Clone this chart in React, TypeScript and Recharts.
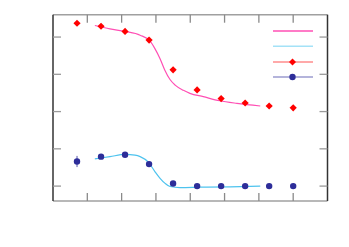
import {
    ComposedChart,
    Line,
    Scatter,
    ErrorBar,
    XAxis,
    YAxis
} from "recharts";

// x positions of the measured points
const xs = [0.7, 1.4, 2.1, 2.8, 3.5, 4.2, 4.9, 5.6, 6.3, 7.0];
const redValues = [4.37, 4.29, 4.15, 3.92, 3.12, 2.58, 2.35, 2.23, 2.15, 2.1];
const blueValues = [0.66, 0.79, 0.84, 0.59, 0.07, 0.0, 0.0, 0.0, 0.0, 0.0];
const blueErrors = [0.15, 0, 0, 0, 0, 0, 0, 0, 0, 0];

// fitted curves
const pinkFitX = [1.22, 1.66, 2.1, 2.54, 2.83, 2.97, 3.12, 3.26, 3.41, 3.56, 3.8, 3.99, 4.38, 4.86, 5.36, 6.04];
const pinkFitY = [4.31, 4.22, 4.15, 4.05, 3.89, 3.69, 3.42, 3.11, 2.86, 2.71, 2.57, 2.49, 2.4, 2.29, 2.22, 2.15];
const blueFitX = [1.22, 1.66, 2.1, 2.39, 2.54, 2.78, 2.97, 3.12, 3.26, 3.41, 3.7, 4.29, 5.16, 6.04];
const blueFitY = [0.73, 0.79, 0.85, 0.83, 0.79, 0.64, 0.39, 0.21, 0.08, -0.01, -0.04, -0.03, -0.02, 0.0];

const xTicks = [1, 2, 3, 4, 5, 6, 7];
const yTicks = [0, 1, 2, 3, 4];

const redData = xs.map((x, i) => ({ x, y: redValues[i] }));
const blueData = xs.map((x, i) => ({ x, y: blueValues[i], err: blueErrors[i] }));
const pinkFit = pinkFitX.map((x, i) => ({ x, y: pinkFitY[i] }));
const blueFit = blueFitX.map((x, i) => ({ x, y: blueFitY[i] }));

const PINK = "#ff4fb4";
const CYAN = "#4ec3ee";
const RED = "#ff0000";
const NAVY = "#2d2d99";

const Diamond = (props: any) => {
    const { cx, cy } = props;
    const r = 3.6;
    return (
        <polygon
            points={`${cx},${cy - r} ${cx + r},${cy} ${cx},${cy + r} ${cx - r},${cy}`}
            fill={RED}
        />
    );
};

const Dot = (props: any) => <circle cx={props.cx} cy={props.cy} r={3.2} fill={NAVY} />;

// no tick labels, only the tick marks
const NoLabel = () => <g />;

function LegendBox() {
    const ys = [7, 22.3, 38, 53];
    return (
        <svg
            width={42}
            height={62}
            style={{ position: "absolute", left: 265, top: 15.7 }}
        >
            <line x1={0} x2={40} y1={ys[0]} y2={ys[0]} stroke={PINK} strokeWidth={1.3} />
            <line x1={0} x2={40} y1={ys[1]} y2={ys[1]} stroke="#a4e2f7" strokeWidth={1.6} />
            <line x1={0} x2={40} y1={ys[2]} y2={ys[2]} stroke="#ff5555" strokeWidth={1.2} />
            <polygon points={`19.5,${ys[2] - 3.5} 23,${ys[2]} 19.5,${ys[2] + 3.5} 16,${ys[2]}`} fill={RED} />
            <line x1={0} x2={40} y1={ys[3]} y2={ys[3]} stroke="#6b6bb8" strokeWidth={1.2} />
            <circle cx={19.5} cy={ys[3]} r={3.2} fill={NAVY} />
        </svg>
    );
}

export default function App() {
    return (
        <div style={{ position: "relative", width: 333, height: 231 }}>
            <ComposedChart
                width={333}
                height={231}
                margin={{ top: 6.7, right: 13.5, bottom: 38, left: 45 }}
            >
                <XAxis
                    xAxisId="b"
                    type="number"
                    dataKey="x"
                    domain={[0, 8]}
                    ticks={xTicks}
                    interval={0}
                    allowDataOverflow
                    mirror
                    tick={NoLabel}
                    tickSize={8}
                    axisLine={{ stroke: "#a0a0a0", strokeWidth: 1.5 }}
                    tickLine={{ stroke: "#8a8a8a", strokeWidth: 1.3 }}
                />
                <XAxis
                    xAxisId="t"
                    orientation="top"
                    type="number"
                    dataKey="x"
                    domain={[0, 8]}
                    ticks={xTicks}
                    interval={0}
                    allowDataOverflow
                    mirror
                    tick={NoLabel}
                    tickSize={8}
                    axisLine={{ stroke: "#a0a0a0", strokeWidth: 1.5 }}
                    tickLine={{ stroke: "#8a8a8a", strokeWidth: 1.3 }}
                />
                <YAxis
                    yAxisId="l"
                    type="number"
                    domain={[-0.4, 4.6]}
                    ticks={yTicks}
                    interval={0}
                    allowDataOverflow
                    mirror
                    tick={NoLabel}
                    tickSize={8}
                    axisLine={{ stroke: "#333", strokeWidth: 1.5 }}
                    tickLine={{ stroke: "#9a9a9a", strokeWidth: 1.3 }}
                />
                <YAxis
                    yAxisId="r"
                    orientation="right"
                    type="number"
                    domain={[-0.4, 4.6]}
                    ticks={yTicks}
                    interval={0}
                    allowDataOverflow
                    mirror
                    tick={NoLabel}
                    tickSize={8}
                    axisLine={{ stroke: "#333", strokeWidth: 1.5 }}
                    tickLine={{ stroke: "#9a9a9a", strokeWidth: 1.3 }}
                />
                <Line
                    xAxisId="b"
                    yAxisId="l"
                    data={pinkFit}
                    dataKey="y"
                    type="monotone"
                    stroke={PINK}
                    strokeWidth={1.2}
                    dot={false}
                    isAnimationActive={false}
                />
                <Line
                    xAxisId="b"
                    yAxisId="l"
                    data={blueFit}
                    dataKey="y"
                    type="monotone"
                    stroke={CYAN}
                    strokeWidth={1.2}
                    dot={false}
                    isAnimationActive={false}
                />
                <Scatter
                    xAxisId="b"
                    yAxisId="l"
                    data={redData}
                    dataKey="y"
                    shape={Diamond}
                    isAnimationActive={false}
                />
                <Scatter
                    xAxisId="b"
                    yAxisId="l"
                    data={blueData}
                    dataKey="y"
                    shape={Dot}
                    isAnimationActive={false}
                >
                    <ErrorBar dataKey="err" direction="y" width={0} stroke="#5555aa" strokeWidth={1} />
                </Scatter>
            </ComposedChart>
            <LegendBox />
        </div>
    );
}
